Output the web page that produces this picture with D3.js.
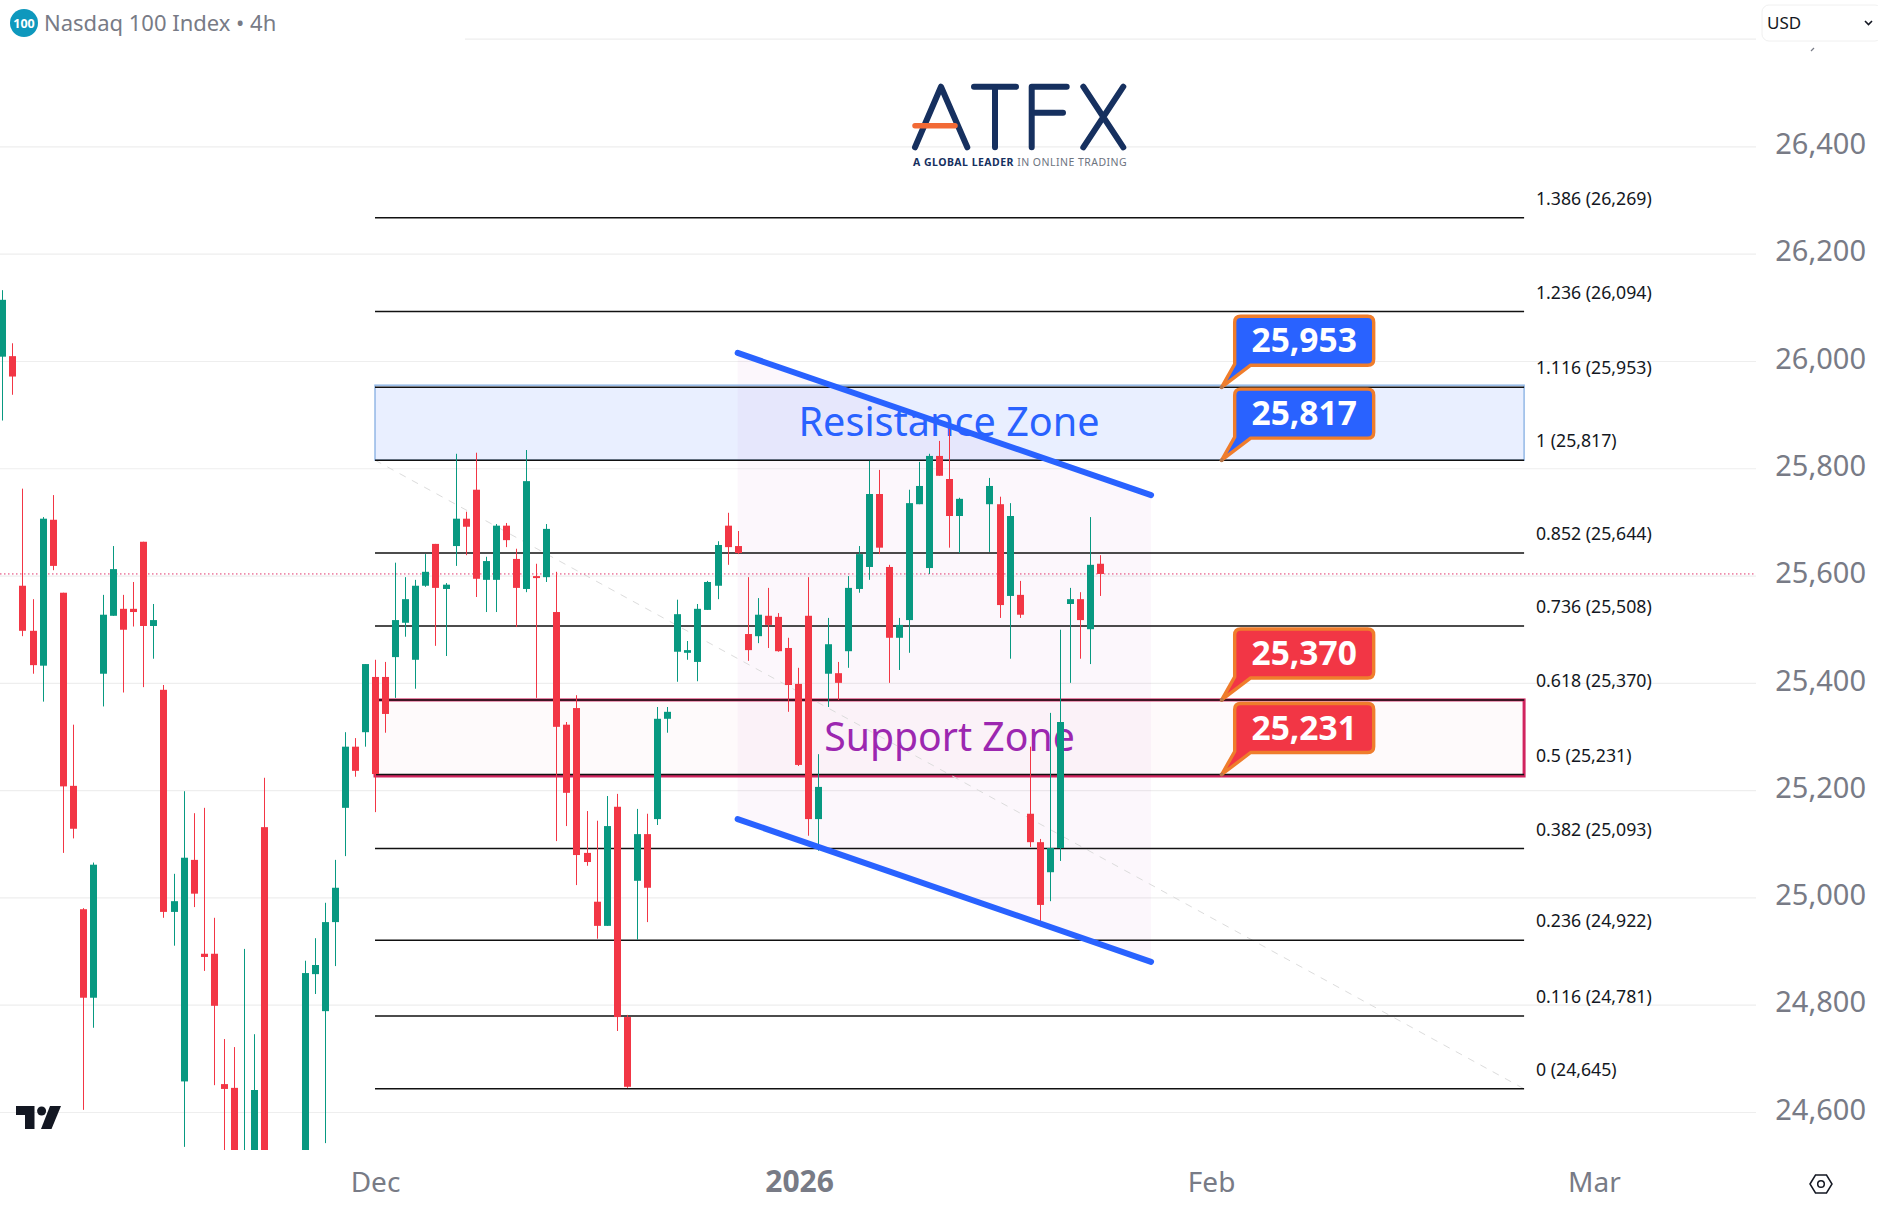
<!DOCTYPE html>
<html><head><meta charset="utf-8">
<script src="https://cdnjs.cloudflare.com/ajax/libs/d3/7.8.5/d3.min.js"></script>
<style>html,body{margin:0;padding:0;background:#fff}svg{display:block}text{font-family:"Noto Sans",sans-serif}</style>
</head><body><svg id="c" width="1878" height="1207"></svg>
<script>
const candleIndex=[0,1,2,3,4,5,6,7,8,9,10,11,12,13,14,15,16,17,18,19,20,21,22,23,24,25,26,30,31,32,33,34,35,36,37,38,39,40,41,42,43,44,45,46,47,48,49,50,51,52,53,54,55,56,57,58,59,60,61,62,63,64,65,66,67,68,69,70,71,72,73,74,75,76,77,78,79,80,81,82,83,84,85,86,87,88,89,90,91,92,93,94,95,98,99,100,101,102,103,104,105,106,107,108,109];
const opens=[26008,26009,25581,25497,25432,25704,25568,25208,24978,24813,25417,25525,25538,25538,25663,25506,25387,24973,24657,25070,24895,24895,24652,24645,24480,24480,25131,24480,24857,24788,24954,25167,25281,25308,25411,25411,25448,25512,25443,25581,25659,25575,25655,25706,25760,25592,25592,25693,25631,25575,25599,25597,25532,25322,25353,25083,24992,24947,25169,24777,25031,25118,25146,25333,25458,25456,25439,25536,25581,25693,25655,25491,25487,25525,25523,25465,25398,25525,25146,25417,25418,25459,25575,25616,25752,25616,25484,25517,25733,25614,25823,25780,25711,25733,25733,25562,25564,25156,25103,25047,25092,25547,25556,25500,25622];
const highs=[26132,26033,25762,25556,25709,25750,25568,25322,24980,25065,25564,25655,25564,25588,25663,25547,25396,25044,25198,25157,25167,24962,24736,24721,24904,24745,25223,24882,24924,24990,25070,25308,25297,25435,25443,25439,25624,25597,25592,25640,25659,25586,25827,25719,25829,25635,25696,25698,25650,25834,25622,25696,25607,25327,25377,25161,25143,25189,25193,24781,25165,25156,25355,25355,25555,25478,25547,25590,25664,25717,25683,25597,25558,25577,25530,25484,25428,25597,25267,25521,25439,25599,25655,25814,25797,25620,25521,25760,25812,25827,25851,25875,25745,25782,25747,25735,25590,25281,25109,25344,25499,25577,25569,25709,25638];
const lows=[25889,25937,25487,25417,25365,25610,25083,25110,24604,24757,25356,25525,25382,25505,25392,25445,24962,24910,24535,24982,24863,24650,24500,24470,24450,24460,24470,24470,24820,24542,24872,25077,25225,25281,25159,25307,25372,25486,25389,25579,25469,25450,25618,25638,25560,25532,25532,25653,25504,25569,25372,25588,25105,25133,25023,25059,24923,24947,24751,24645,24921,24954,25135,25307,25402,25443,25403,25536,25556,25620,25640,25441,25474,25465,25458,25346,25245,25115,25087,25355,25368,25428,25568,25592,25640,25400,25424,25456,25733,25603,25786,25652,25642,25644,25521,25445,25521,25094,24956,24993,25068,25400,25445,25435,25562];
const closes=[26114,25971,25497,25433,25706,25618,25207,25128,24813,25061,25527,25612,25499,25532,25506,25517,24973,24993,25074,25007,24889,24798,24643,24480,24520,24641,24480,24859,24874,24954,25018,25281,25236,25435,25230,25342,25517,25556,25581,25607,25577,25583,25706,25691,25594,25627,25693,25666,25577,25776,25597,25687,25318,25195,25079,25066,24947,25133,24777,24647,25118,25018,25333,25346,25528,25461,25538,25588,25657,25653,25642,25461,25527,25508,25459,25396,25247,25146,25206,25472,25400,25577,25640,25752,25652,25484,25508,25735,25767,25823,25786,25711,25743,25767,25545,25711,25527,25103,24986,25092,25327,25556,25517,25620,25603];

const fibRatios=["1.386","1.236","1.116","1","0.852","0.736","0.618","0.5","0.382","0.236","0.116","0"];
const fibPrices=[26269,26094,25953,25817,25644,25508,25370,25231,25093,24922,24781,24645];
const fibSpan=[37,151.07];
const priceTicks=[24600,24800,25000,25200,25400,25600,25800,26000,26200,26400];
const timeTickIndex=[37,79.1,120,158];
const timeTickLabels=["Dec","2026","Feb","Mar"];
const channelSpan=[73,114.04];
const channelUpper=[26015,25750];
const channelLower=[25146,24880];
const calloutPrices=[25953,25817,25370,25231];
const calloutColors=["#2962ff","#2962ff","#f23645","#f23645"];
const calloutIndex=121.05;

const UP="#089981",DOWN="#f23645",AXIS="#787b86",GRID="#eeeeee";
const W=1878,H=1207,plotR=1756,plotB=1150;
const x=d3.scaleLinear().domain([0,109]).range([2.3,1100.3]);
const y=d3.scaleLinear().domain([24600,26400]).range([1112,146.4]);
const svg=d3.select("#c");
svg.append("defs").append("clipPath").attr("id","plot").append("rect").attr("x",0).attr("y",0).attr("width",plotR).attr("height",plotB);

// grid via axis
const grid=svg.append("g").attr("transform",`translate(${plotR},0)`)
 .call(d3.axisLeft(y).tickValues(priceTicks).tickSize(plotR).tickFormat(""));
grid.select(".domain").remove();
grid.selectAll("line").attr("stroke",GRID).attr("stroke-width",1.2);
svg.append("line").attr("x1",465).attr("x2",plotR).attr("y1",y(26600)).attr("y2",y(26600)).attr("stroke",GRID).attr("stroke-width",1.2);

// parallel channel fill
const chanPts=[[channelSpan[0],channelUpper[0]],[channelSpan[1],channelUpper[1]],[channelSpan[1],channelLower[1]],[channelSpan[0],channelLower[0]]];
svg.append("path").attr("d",d3.line().x(d=>x(d[0])).y(d=>y(d[1]))(chanPts)+"Z").attr("fill","rgba(156,39,176,0.035)");

// zones
const fx0=x(fibSpan[0]),fx1=x(fibSpan[1]),fibY=d=>y(d)+1;
svg.append("rect").attr("x",fx0).attr("width",fx1-fx0).attr("y",y(25953)-1).attr("height",y(25817)-y(25953)+2)
 .attr("fill","rgba(41,98,255,0.1)").attr("stroke","#93b8e6").attr("stroke-width",1.5);
svg.append("rect").attr("x",fx0).attr("width",fx1-fx0).attr("y",fibY(25370)).attr("height",y(25231)-y(25370)+1.5)
 .attr("fill","rgba(233,30,99,0.022)").attr("stroke","#d1245f").attr("stroke-width",3);

// dashed fib trend line
svg.append("line").attr("x1",x(fibSpan[0])).attr("x2",x(fibSpan[1])).attr("y1",fibY(25817)).attr("y2",fibY(24645))
 .attr("stroke","#dcdcdc").attr("stroke-width",1).attr("stroke-dasharray","7 7");

// fib lines and labels
svg.append("g").selectAll("line").data(fibPrices).join("line")
 .attr("x1",fx0).attr("x2",fx1).attr("y1",fibY).attr("y2",fibY).attr("stroke","#111").attr("stroke-width",1.5);
svg.append("g").selectAll("text").data(fibPrices).join("text")
 .attr("x",1536).attr("y",d=>y(d)-18).attr("dy","0.35em").attr("font-size",17.7).attr("fill","#131722")
 .text((d,i)=>`${fibRatios[i]} (${d3.format(",")(d)})`);

// zone titles
svg.append("text").attr("x",949).attr("y",436).attr("text-anchor","middle").attr("font-size",39.6).attr("fill","#2962ff").text("Resistance Zone");
svg.append("text").attr("x",949.5).attr("y",750.5).attr("text-anchor","middle").attr("font-size",39.2).attr("fill","#9c27b0").text("Support Zone");

// last price line
svg.append("line").attr("x1",0).attr("x2",plotR).attr("y1",y(closes[closes.length-1])).attr("y2",y(closes[closes.length-1]))
 .attr("stroke","#e0356c").attr("stroke-width",1).attr("stroke-dasharray","1.5 2.5");

// candles
const cg=svg.append("g").attr("clip-path","url(#plot)");
const rows=candleIndex.map((k,i)=>({k,o:opens[i],h:highs[i],l:lows[i],c:closes[i]}));
cg.selectAll("line").data(rows).join("line")
 .attr("x1",d=>Math.round(x(d.k))+.5).attr("x2",d=>Math.round(x(d.k))+.5).attr("y1",d=>y(d.h)).attr("y2",d=>y(d.l))
 .attr("stroke",d=>d.c>=d.o?UP:DOWN).attr("stroke-width",1);
cg.selectAll("rect").data(rows).join("rect")
 .attr("x",d=>Math.round(x(d.k))-3).attr("width",7)
 .attr("y",d=>y(Math.max(d.o,d.c))).attr("height",d=>Math.max(2,Math.abs(y(d.o)-y(d.c))))
 .attr("fill",d=>d.c>=d.o?UP:DOWN);

// channel borders
[channelUpper,channelLower].forEach(s=>{
 svg.append("path").attr("d",d3.line().x((d,i)=>x(channelSpan[i])).y(d=>y(d))(s))
  .attr("fill","none").attr("stroke","#2962ff").attr("stroke-width",6).attr("stroke-linecap","round");
});

// callouts
calloutPrices.forEach((p,i)=>{
 const ax=x(calloutIndex),ay=y(p)+1,x0=ax+13,x1=ax+152,y0=ay-71,y1=ay-22,r=6;
 const d=`M${x0+r},${y0}H${x1-r}Q${x1},${y0} ${x1},${y0+r}V${y1-r}Q${x1},${y1} ${x1-r},${y1}H${ax+29}L${ax},${ay}L${x0},${y1-r+5}V${y0+r}Q${x0},${y0} ${x0+r},${y0}Z`;
 svg.append("path").attr("d",d).attr("fill",calloutColors[i]).attr("stroke","#ef7d2c").attr("stroke-width",3.4).attr("stroke-linejoin","round");
 svg.append("circle").attr("cx",ax).attr("cy",ay).attr("r",2).attr("fill","#b5764a");
 svg.append("text").attr("x",(x0+x1)/2).attr("y",ay-35).attr("text-anchor","middle").attr("font-size",33.5).attr("font-weight",700).attr("fill","#fff").text(d3.format(",")(p));
});

// price axis
const pa=svg.append("g").attr("transform","translate(1866,0)").call(d3.axisLeft(y).tickValues(priceTicks).tickSize(0).tickPadding(0).tickFormat(d3.format(",")));
pa.select(".domain").remove();
pa.selectAll("text").attr("font-size",29).attr("fill",AXIS).attr("dy","0.25em").attr("font-family",'"Noto Sans",sans-serif');
svg.append("line").attr("x1",1811).attr("x2",1814).attr("y1",51).attr("y2",48).attr("stroke",AXIS).attr("stroke-width",1.3);

// time axis
const ta=svg.append("g").attr("transform","translate(0,1191.5)").call(d3.axisBottom(x).tickValues(timeTickIndex).tickSize(0).tickPadding(0).tickFormat((d,i)=>timeTickLabels[i]));
ta.select(".domain").remove();
ta.selectAll("text").attr("fill",AXIS).attr("dy","0.0em").attr("font-family",'"Noto Sans",sans-serif')
 .attr("font-size",(d,i)=>timeTickLabels[i]==="2026"?30:28).attr("font-weight",(d,i)=>timeTickLabels[i]==="2026"?700:400);

// header
svg.append("circle").attr("cx",24).attr("cy",23).attr("r",14).attr("fill","#0e98bd");
svg.append("text").attr("x",24).attr("y",27.5).attr("text-anchor","middle").attr("font-size",12.5).attr("font-weight",700).attr("fill","#fff").text("100");
svg.append("text").attr("x",44).attr("y",31).attr("font-size",22).attr("fill",AXIS).text("Nasdaq 100 Index • 4h");
svg.append("rect").attr("x",1762).attr("y",5).attr("width",120).attr("height",36).attr("rx",7).attr("fill","#fff").attr("stroke","#f0f0f0");
svg.append("text").attr("x",1767).attr("y",29).attr("font-size",17).attr("fill","#131722").text("USD");
svg.append("path").attr("d","M1865,21l3.5,3.5l3.5,-3.5").attr("fill","none").attr("stroke","#131722").attr("stroke-width",1.6);

// ATFX logo
const navy="#16305f",lg=svg.append("g").attr("fill","none").attr("stroke",navy).attr("stroke-width",6).attr("stroke-linecap","round").attr("stroke-linejoin","round");
lg.append("path").attr("d","M915,147.3L941,86.7L967.3,147.3");
lg.append("path").attr("d","M974,86.7H1016M995,86.7V147.3");
lg.append("path").attr("d","M1066.7,86.7H1031.7V147.3M1031.7,112.7H1063");
lg.append("path").attr("d","M1083.3,86.7L1123.3,147.3M1123.3,86.7L1083.3,147.3");
lg.append("path").attr("d","M915,125.7H955").attr("stroke","#f26a36").attr("stroke-width",5.5);
const tag=svg.append("text").attr("x",913).attr("y",165.5).attr("font-size",10.5).attr("letter-spacing",0.47);
tag.append("tspan").attr("font-weight",700).attr("fill",navy).text("A GLOBAL LEADER");
tag.append("tspan").attr("fill","#6d7480").text(" IN ONLINE TRADING");

// TradingView mark
svg.append("path").attr("d","M16,1106H34.5V1129H25V1115H16Z").attr("fill","#131722");
svg.append("circle").attr("cx",41.6).attr("cy",1111).attr("r",4.5).attr("fill","#131722");
svg.append("path").attr("d","M50,1106H61L51.5,1129H41Z").attr("fill","#131722");

// settings hexagon
svg.append("path").attr("d","M1810,1184L1815.5,1175H1826.5L1832,1184L1826.5,1193H1815.5Z").attr("fill","none").attr("stroke","#131722").attr("stroke-width",1.5);
svg.append("circle").attr("cx",1821).attr("cy",1184).attr("r",3.3).attr("fill","none").attr("stroke","#131722").attr("stroke-width",1.5);
</script></body></html>
